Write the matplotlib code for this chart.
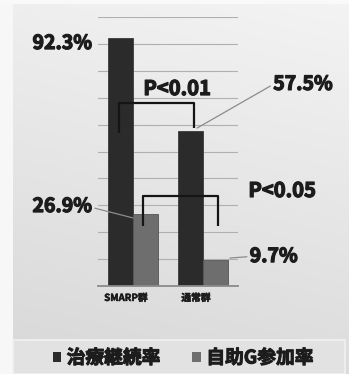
import matplotlib
matplotlib.use("Agg")
import matplotlib.pyplot as plt
import matplotlib.patheffects as pe
import numpy as np
from matplotlib.patches import Patch, Rectangle, PathPatch
from matplotlib.path import Path

plt.rcParams['font.family'] = ['Noto Sans CJK JP', 'DejaVu Sans']

# ---- data ----
groups = ['SMARP群', '通常群']
series_names = ['治療継続率', '自助G参加率']
continuation = [92.3, 57.5]
self_help = [26.9, 9.7]
p_labels = ['P<0.01', 'P<0.05']

DARK = '#2b2b2b'
GREY = '#6e6e6e'
TXT = '#1c1c1c'
heavy = [pe.withStroke(linewidth=0.9, foreground=TXT)]

W, H = 349, 374
fig = plt.figure(figsize=(W / 100, H / 100), dpi=100)

# ---- panel background with soft gradient ----
bg = fig.add_axes([0, 0, 1, 1], zorder=-10)
yy, xx = np.mgrid[0:1:200j, 0:1:200j]
shade = 0.935 - 0.09 * yy + 0.02 * xx
bg.imshow(np.dstack([np.clip(shade, 0, 1)] * 3), extent=[0, 1, 0, 1],
          aspect='auto', origin='upper')
bg.add_patch(Rectangle((0, 0), 13 / W, 1, color='#f7f7f7', lw=0))
bg.add_patch(Rectangle((0, 1 - 4 / H), 1, 4 / H, color='#f9f9f9', lw=0))
bg.add_patch(Rectangle((13 / W, 0), (345 - 13) / W, (374 - 340) / H,
                       facecolor='#e2e2e2', edgecolor='#f1f1f1', lw=1.2))
bg.set_xlim(0, 1)
bg.set_ylim(0, 1)
bg.axis('off')

# ---- main axes ----
ax = fig.add_axes([98 / W, 88 / H, 140 / W, 269 / H])
ax.patch.set_alpha(0)
ax.set_xlim(-0.5, 1.5)
ax.set_ylim(0, 100)
for s in ['top', 'right', 'left']:
    ax.spines[s].set_visible(False)
ax.spines['bottom'].set_color('#8a8a8a')
ax.spines['bottom'].set_linewidth(1.3)
ax.set_yticks(np.arange(10, 101, 10))
ax.set_yticklabels([])
ax.tick_params(axis='y', length=0)
ax.yaxis.grid(True, color='#b0b0b0', lw=0.8)
ax.set_axisbelow(True)

x = np.arange(len(groups))
bw = 0.36
ax.bar(x - bw / 2, continuation, bw, color=DARK, edgecolor='#3a3a3a', lw=0.6, zorder=2)
ax.bar(x + bw / 2, self_help, bw, color=GREY, edgecolor='#555555', lw=0.6, zorder=2)

ax.set_xticks(x - 0.1)
ax.set_xticklabels(groups, fontsize=7, fontweight='bold', color=TXT)
for t in ax.get_xticklabels():
    t.set_path_effects([pe.withStroke(linewidth=0.4, foreground=TXT)])
ax.tick_params(axis='x', length=0, pad=5)

# ---- value labels ----
val_kw = dict(fontsize=14, fontweight='bold', color=TXT, ha='center', va='baseline',
              annotation_clip=False, path_effects=heavy)
line_kw = dict(arrowstyle='-', color='#8c8c8c', lw=0.9, shrinkA=0, shrinkB=0)

ax.annotate(f'{continuation[0]}%', xy=(-0.18, continuation[0]), xytext=(-1.01, 88.1), **val_kw)
ax.annotate(f'{self_help[0]}%', xy=(0.0, 25.3), xytext=(-1.01, 27.5),
            arrowprops=dict(**line_kw, relpos=(1.0, 0.45)), **val_kw)
ax.annotate(f'{continuation[1]}%', xy=(0.914, 58.7), xytext=(2.43, 72.9),
            arrowprops=dict(**line_kw, relpos=(0.0, 0.5)), **val_kw)
ax.annotate(f'{self_help[1]}%', xy=(1.386, 10.4), xytext=(2.01, 8.9),
            arrowprops=dict(**line_kw, relpos=(0.0, 0.5)), **val_kw)

# ---- significance brackets ----
def bracket(x0, y0, x1, y1, top):
    verts = [(x0, y0), (x0, top), (x1, top), (x1, y1)]
    codes = [Path.MOVETO, Path.LINETO, Path.LINETO, Path.LINETO]
    ax.add_patch(PathPatch(Path(verts, codes), fill=False, edgecolor='#151515',
                           lw=1.6, joinstyle='round', capstyle='butt', zorder=3,
                           clip_on=False))

bracket(-0.2, 56.9, 0.871, 58.7, 68.0)
bracket(0.143, 22.3, 1.214, 22.3, 33.5)

ax.text(0.63, 71.0, p_labels[0], fontsize=14.5, fontweight='bold', color=TXT,
        ha='center', va='baseline', clip_on=False, path_effects=heavy)
ax.text(2.13, 33.1, p_labels[1], fontsize=14.5, fontweight='bold', color=TXT,
        ha='center', va='baseline', clip_on=False, path_effects=heavy)

# ---- legend ----
handles = [Patch(facecolor=DARK), Patch(facecolor=GREY)]
leg = fig.legend(handles, series_names, loc='center', bbox_to_anchor=(183 / W, 1 - 358 / H),
                 ncol=2, frameon=False, prop=dict(size=13.5, weight='bold'),
                 handlelength=0.45, handleheight=0.45, handletextpad=0.3,
                 columnspacing=1.7, labelcolor=TXT)
for t in leg.get_texts():
    t.set_path_effects([pe.withStroke(linewidth=0.7, foreground=TXT)])

fig.savefig('out.png', dpi=100)
